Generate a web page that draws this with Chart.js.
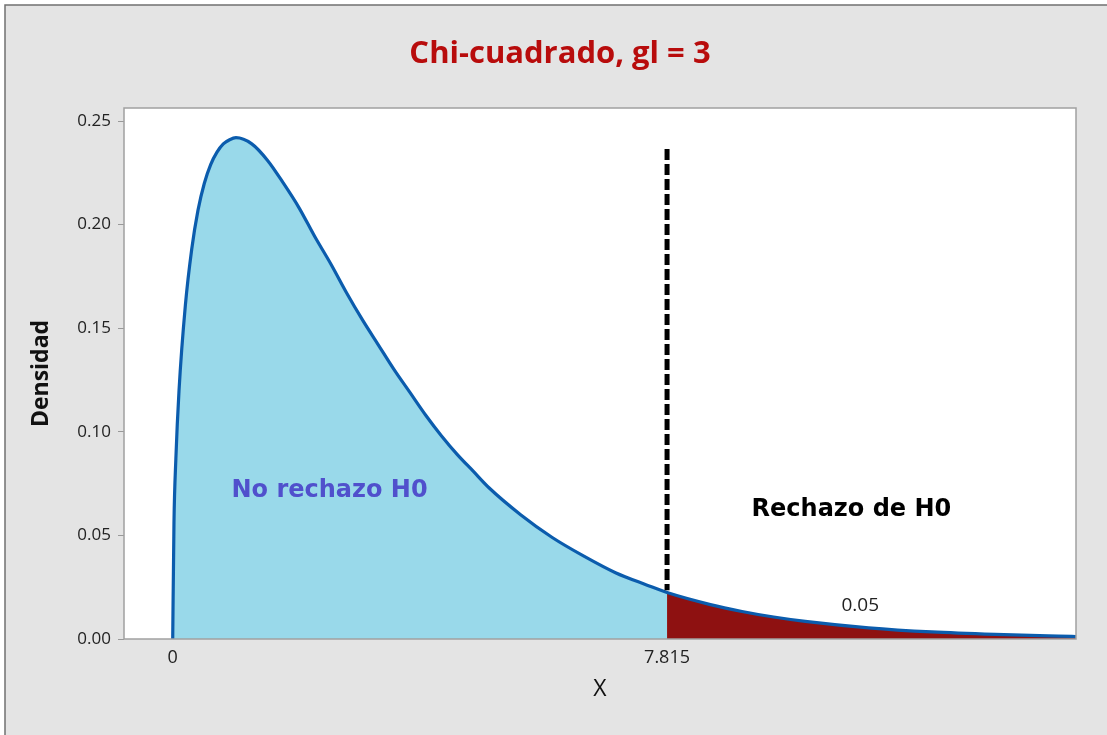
<!DOCTYPE html>
<html>
<head>
<meta charset="utf-8">
<script src="https://cdn.jsdelivr.net/npm/chart.js@4.4.1/dist/chart.umd.min.js"></script>
<style>
  html, body { margin: 0; padding: 0; background: #ffffff; }
  #wrap { width: 1107px; height: 735px; }
</style>
</head>
<body>
<div id="wrap"><canvas id="chart" width="1107" height="735"></canvas></div>
<script>
// Chi-cuadrado density, values
const xValues = [0, 0.02, 0.05, 0.1, 0.2, 0.3, 0.4, 0.5, 0.6, 0.7, 0.8, 0.9, 1.0, 1.25, 1.5, 1.75, 2.0,
  2.25, 2.5, 2.75, 3.0, 3.25, 3.5, 3.75, 4.0, 4.25, 4.5, 4.75, 5.0, 5.5, 6.0, 6.5, 7.0, 7.5, 7.815,
  8.5, 9.0, 9.5, 10, 11, 12, 13, 14, 14.3];
const density = [0, 0.056, 0.087, 0.120, 0.161, 0.188, 0.207, 0.220, 0.229, 0.235, 0.239, 0.241, 0.242,
  0.239, 0.231, 0.220, 0.208, 0.194, 0.181, 0.167, 0.154, 0.142, 0.130, 0.119, 0.108, 0.098, 0.089,
  0.081, 0.073, 0.060, 0.049, 0.040, 0.032, 0.026, 0.0224,
  0.0166, 0.0133, 0.0106, 0.0085, 0.0054, 0.0034, 0.0022, 0.0014, 0.0012];
const criticalValue = 7.815;
const xTicks = [0, criticalValue];
const yTicks = [0, 0.05, 0.10, 0.15, 0.20, 0.25];
const chartTitle = 'Chi-cuadrado, gl = 3';
const regionLabels = ['No rechazo H0', 'Rechazo de H0', '0.05'];

const points = xValues.map((x, i) => ({ x: x, y: density[i] }));
const acceptPts = points.filter(p => p.x <= criticalValue);
const rejectPts = points.filter(p => p.x >= criticalValue);

const FONT = '"Open Sans", sans-serif';
const LABEL_FONT = '"DejaVu Sans", sans-serif';

// grey panel, title, frame and labels
const framePlugin = {
  id: 'frame',
  beforeDraw(chart) {
    const ctx = chart.ctx;
    ctx.save();
    ctx.fillStyle = '#ffffff';
    ctx.fillRect(0, 0, chart.width, chart.height);
    ctx.fillStyle = '#e4e4e4';
    ctx.fillRect(5, 5, chart.width, chart.height);
    ctx.strokeStyle = '#707070';
    ctx.lineWidth = 1.5;
    ctx.beginPath();
    ctx.moveTo(5, chart.height + 2);
    ctx.lineTo(5, 5);
    ctx.lineTo(chart.width + 2, 5);
    ctx.stroke();
    const a = chart.chartArea;
    ctx.fillStyle = '#ffffff';
    ctx.fillRect(a.left, a.top, a.right - a.left, a.bottom - a.top);
    // title
    ctx.font = 'bold 31px ' + FONT;
    ctx.fillStyle = '#b80c0c';
    ctx.textAlign = 'center';
    ctx.textBaseline = 'middle';
    ctx.fillText(chartTitle, 560, 54);
    ctx.restore();
  },
  afterDatasetsDraw(chart) {
    const ctx = chart.ctx;
    const a = chart.chartArea;
    const xs = chart.scales.x, ys = chart.scales.y;
    ctx.save();
    // critical value dashed line
    ctx.strokeStyle = '#000000';
    ctx.lineWidth = 5;
    ctx.setLineDash([11, 4]);
    ctx.beginPath();
    const px = xs.getPixelForValue(criticalValue);
    ctx.moveTo(px, ys.getPixelForValue(0.2365));
    ctx.lineTo(px, ys.getPixelForValue(0.0235));
    ctx.stroke();
    ctx.setLineDash([]);
    // plot border
    ctx.strokeStyle = '#a0a0a0';
    ctx.lineWidth = 1.5;
    ctx.strokeRect(a.left, a.top, a.right - a.left, a.bottom - a.top);
    // region labels
    ctx.textAlign = 'center';
    ctx.textBaseline = 'middle';
    ctx.font = 'bold 24px ' + LABEL_FONT;
    ctx.fillStyle = '#5050cc';
    ctx.fillText(regionLabels[0], xs.getPixelForValue(2.48), ys.getPixelForValue(0.0714));
    ctx.fillStyle = '#000000';
    ctx.fillText(regionLabels[1], xs.getPixelForValue(10.73), ys.getPixelForValue(0.0623));
    ctx.font = '19px ' + FONT;
    ctx.fillStyle = '#222222';
    ctx.fillText(regionLabels[2], xs.getPixelForValue(10.87), ys.getPixelForValue(0.0159));
    ctx.restore();
  }
};

new Chart(document.getElementById('chart'), {
  type: 'line',
  data: {
    datasets: [
      {
        data: points,
        borderColor: '#0b5cad',
        borderWidth: 3.2,
        pointRadius: 0,
        fill: false,
        cubicInterpolationMode: 'monotone',
        order: 0
      },
      {
        data: acceptPts,
        borderWidth: 0,
        pointRadius: 0,
        backgroundColor: '#99d9ea',
        fill: 'origin',
        cubicInterpolationMode: 'monotone',
        order: 2
      },
      {
        data: rejectPts,
        borderWidth: 0,
        pointRadius: 0,
        backgroundColor: '#8e1111',
        fill: 'origin',
        cubicInterpolationMode: 'monotone',
        order: 1
      }
    ]
  },
  options: {
    responsive: false,
    animation: false,
    layout: { padding: { left: 0, right: 31, top: 108, bottom: 0 } },
    plugins: {
      legend: { display: false },
      tooltip: { enabled: false },
      title: { display: false }
    },
    scales: {
      x: {
        type: 'linear',
        min: -0.77,
        max: 14.28,
        afterBuildTicks(scale) { scale.ticks = xTicks.map(v => ({ value: v })); },
        afterFit(scale) { scale.height = 96; },
        grid: { display: false, drawTicks: false },
        border: { display: false },
        ticks: {
          padding: 8,
          color: '#222222',
          font: { family: FONT, size: 18 },
          callback: v => String(v)
        },
        title: {
          display: true,
          text: 'X',
          color: '#111111',
          font: { family: FONT, size: 23 },
          padding: { top: 0, bottom: 32 }
        }
      },
      y: {
        min: 0,
        max: 0.2563,
        afterBuildTicks(scale) { scale.ticks = yTicks.map(v => ({ value: v })); },
        afterFit(scale) { scale.width = 124; },
        grid: { drawOnChartArea: false, tickLength: 6, color: '#999999' },
        border: { display: false },
        ticks: {
          padding: 7,
          color: '#222222',
          font: { family: FONT, size: 17 },
          callback: v => v.toFixed(2)
        },
        title: {
          display: true,
          text: 'Densidad',
          color: '#111111',
          font: { family: FONT, size: 23, weight: 'bold' },
          padding: { top: 28, bottom: 0 }
        }
      }
    }
  },
  plugins: [framePlugin]
});
</script>
</body>
</html>
